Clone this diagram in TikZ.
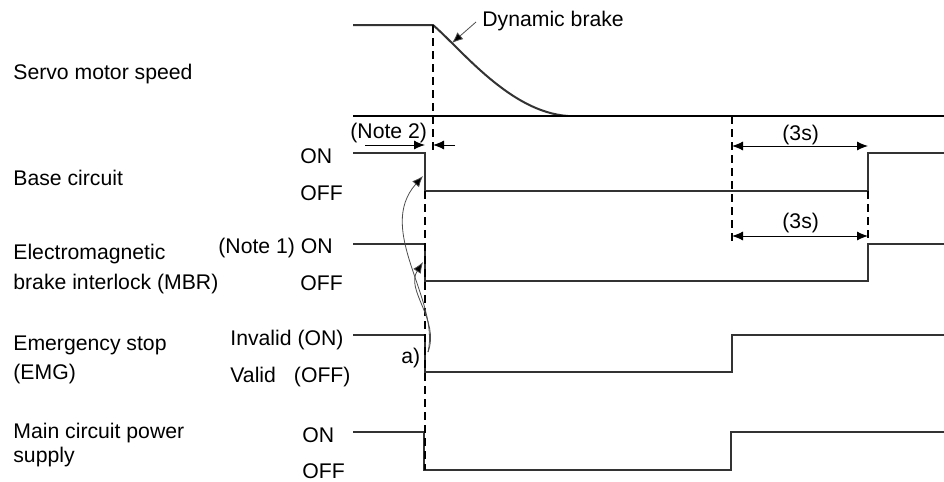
\documentclass[tikz,border=0pt]{standalone}
\usepackage{fontspec}
\setmainfont{Liberation Sans}
\usetikzlibrary{arrows.meta, positioning}
\definecolor{SigGray}{HTML}{333333}
\definecolor{LeadGray}{HTML}{4D4D4D}
\tikzset{
    % Text styles
    rowlabel/.style={
        anchor=base west,
        inner sep=0pt,
        font=\fontsize{10.6}{12}\selectfont
    },
    % Line styles
    signal/.style={
        draw=SigGray,
        line width=1pt,
        line join=miter
    },
    speedline/.style={
        draw=black,
        line width=1.3pt
    },
    guide/.style={
        draw=black,
        line width=0.55pt,
        dash pattern=on 4pt off 2.5pt
    },
    % Arrow styles
    dimarrow/.style={
        {Latex[length=5.5pt,width=4.5pt]}-{Latex[length=5.5pt,width=4.5pt]},
        line width=0.5pt,
        black
    },
    onearrow/.style={
        -{Latex[length=5.5pt,width=4.5pt]},
        line width=0.5pt,
        black
    },
    leader/.style={
        -{Latex[length=5.5pt,width=4.5pt,fill=black]},
        line width=0.4pt,
        LeadGray
    }
}

\begin{document}
\begin{tikzpicture}[x=0.5pt, y=-0.5pt]
    \useasboundingbox (0,0) rectangle (944,482);

    % Row labels
    \node[rowlabel] (speedlbl) at (13,79) {Servo motor speed};
    \node[rowlabel] (baselbl) at (13,185) {Base circuit};
    \node[rowlabel] (mbrlbl) at (13,259) {Electromagnetic};
    \node[rowlabel] (mbrlbltwo) at (13,289) {brake interlock (MBR)};
    \node[rowlabel] (emglbl) at (13,350) {Emergency stop};
    \node[rowlabel] (emglbltwo) at (13,379) {(EMG)};
    \node[rowlabel] (mainlbl) at (13,438) {Main circuit power};
    \node[rowlabel] (mainlbltwo) at (13,462) {supply};

    % Level labels
    \node[rowlabel] (baseon) at (300,163) {ON};
    \node[rowlabel] (baseoff) at (300,200) {OFF};
    \node[rowlabel] (mbron) at (218,253) {(Note 1) ON};
    \node[rowlabel] (mbroff) at (300,290) {OFF};
    \node[rowlabel] (emgon) at (230,345) {Invalid (ON)};
    \node[rowlabel] (emgoff) at (230,382) {Valid\hspace{0.85em}(OFF)};
    \node[rowlabel] (mainon) at (302,442) {ON};
    \node[rowlabel] (mainoff) at (302,478) {OFF};

    % Servo motor speed
    \draw[signal] (353,25) -- (433,25) .. controls (462,50) and (510,112) .. (568,116);
    \draw[speedline] (353,116) -- (944,116);

    % Signal waveforms
    \draw[signal] (353,153) -- (425,153) -- (425,191) -- (868,191) -- (868,153) -- (944,153);
    \draw[signal] (353,244) -- (425,244) -- (425,281) -- (868,281) -- (868,244) -- (944,244);
    \draw[signal] (353,335) -- (425,335) -- (425,372) -- (732,372) -- (732,335) -- (944,335);
    \draw[signal] (353,432) -- (424,432) -- (424,470) -- (731,470) -- (731,432) -- (944,432);

    % Timing guides
    \draw[guide] (433,25) -- (433,150);
    \draw[guide] (425,191) -- (425,470);
    \draw[guide] (732,116) -- (732,241);
    \draw[guide] (868,191) -- (868,241);

    % Note 2 gap
    \coordinate (ntwoa) at (365,145);
    \coordinate (ntwob) at (425,145);
    \coordinate (ntwoc) at (433,145);
    \coordinate (ntwod) at (455,145);
    \draw[onearrow] (ntwoa) -- (ntwob);
    \draw[onearrow] (ntwod) -- (ntwoc);
    \node[rowlabel] (notetwo) at (350,138) {(Note 2)};

    % 3s delays
    \coordinate (dlyastart) at (732,146);
    \coordinate (dlyaend) at (868,146);
    \coordinate (dlybstart) at (732,236);
    \coordinate (dlybend) at (868,236);
    \draw[dimarrow] (dlyastart) -- (dlyaend);
    \draw[dimarrow] (dlybstart) -- (dlybend);
    \node[rowlabel] (dlyalbl) at (782,140) {(3s)};
    \node[rowlabel] (dlyblbl) at (782,228) {(3s)};

    % Dynamic brake
    \node[rowlabel] (dynlbl) at (482,26) {Dynamic brake};
    \coordinate (dyntail) at (476,22);
    \coordinate (dyntip) at (452,43);
    \draw[leader] (dyntail) -- (dyntip);

    % a) causes
    \node[rowlabel] (acause) at (401,363) {a)};
    \coordinate (asrc) at (428,352);
    \coordinate (basehit) at (423,176);
    \coordinate (mbrhit) at (423,262);
    \draw[leader] (asrc) .. controls (440,300) and (375,230) .. (basehit);
    \draw[leader] (asrc) .. controls (440,320) and (405,290) .. (mbrhit);
\end{tikzpicture}
\end{document}
